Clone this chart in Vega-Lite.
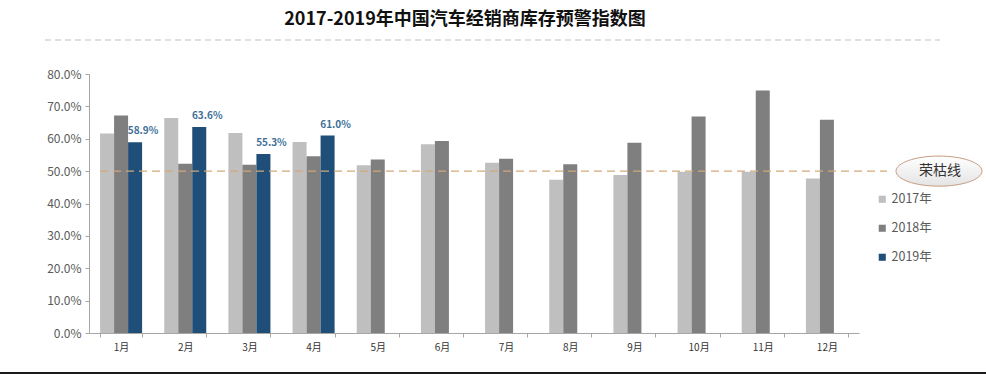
{
  "$schema": "https://vega.github.io/schema/vega-lite/v6.json",
  "width": 770,
  "height": 259,
  "autosize": {"type": "none"},
  "padding": {"left": 89, "top": 74, "right": 127, "bottom": 41},
  "background": "white",
  "title": {
    "text": "2017-2019年中国汽车经销商库存预警指数图",
    "font": "Noto Sans CJK SC",
    "fontSize": 18,
    "fontWeight": "bold",
    "color": "#111111",
    "anchor": "middle",
    "offset": 11,
    "dx": -9
  },
  "config": {
    "view": {"stroke": null},
    "font": "Noto Sans CJK SC",
    "axisY": {"tickCount": 12, "labelOverlap": false}
  },
  "layer": [
    {
      "data": {
        "values": [
          {"month": "1月", "year": "2017年", "value": 0.616},
          {"month": "1月", "year": "2018年", "value": 0.672},
          {"month": "1月", "year": "2019年", "value": 0.589},
          {"month": "2月", "year": "2017年", "value": 0.664},
          {"month": "2月", "year": "2018年", "value": 0.523},
          {"month": "2月", "year": "2019年", "value": 0.636},
          {"month": "3月", "year": "2017年", "value": 0.618},
          {"month": "3月", "year": "2018年", "value": 0.520},
          {"month": "3月", "year": "2019年", "value": 0.553},
          {"month": "4月", "year": "2017年", "value": 0.590},
          {"month": "4月", "year": "2018年", "value": 0.546},
          {"month": "4月", "year": "2019年", "value": 0.610},
          {"month": "5月", "year": "2017年", "value": 0.518},
          {"month": "5月", "year": "2018年", "value": 0.536},
          {"month": "6月", "year": "2017年", "value": 0.583},
          {"month": "6月", "year": "2018年", "value": 0.593},
          {"month": "7月", "year": "2017年", "value": 0.526},
          {"month": "7月", "year": "2018年", "value": 0.538},
          {"month": "8月", "year": "2017年", "value": 0.473},
          {"month": "8月", "year": "2018年", "value": 0.521},
          {"month": "9月", "year": "2017年", "value": 0.488},
          {"month": "9月", "year": "2018年", "value": 0.588},
          {"month": "10月", "year": "2017年", "value": 0.498},
          {"month": "10月", "year": "2018年", "value": 0.669},
          {"month": "11月", "year": "2017年", "value": 0.498},
          {"month": "11月", "year": "2018年", "value": 0.749},
          {"month": "12月", "year": "2017年", "value": 0.477},
          {"month": "12月", "year": "2018年", "value": 0.659}
        ]
      },
      "layer": [
        {
          "mark": {"type": "bar"},
          "encoding": {
            "x": {
              "field": "month",
              "type": "nominal",
              "sort": ["1月","2月","3月","4月","5月","6月","7月","8月","9月","10月","11月","12月"],
              "scale": {"paddingInner": 0.345, "paddingOuter": 0.1725},
              "axis": {
                "title": null,
                "labelAngle": 0,
                "labelFontSize": 10,
                "labelColor": "#333333",
                "labelPadding": 5,
                "tickBand": "extent",
                "tickSize": 4,
                "tickColor": "#a6a6a6",
                "domainColor": "#a6a6a6"
              }
            },
            "xOffset": {
              "field": "year",
              "type": "nominal",
              "scale": {"domain": ["2017年", "2018年", "2019年"], "paddingInner": 0, "paddingOuter": 0}
            },
            "y": {
              "field": "value",
              "type": "quantitative",
              "scale": {"domain": [0, 0.8], "nice": false},
              "axis": {
                "title": null,
                "format": ".1%",
                "values": [0, 0.1, 0.2, 0.3, 0.4, 0.5, 0.6, 0.7, 0.8],
                "tickCount": 12,
                "labelOverlap": false,
                "grid": false,
                "labelFontSize": 12,
                "labelColor": "#595959",
                "labelPadding": 4,
                "tickSize": 4,
                "tickColor": "#a6a6a6",
                "domainColor": "#a6a6a6"
              }
            },
            "color": {
              "field": "year",
              "type": "nominal",
              "scale": {"domain": ["2017年", "2018年", "2019年"], "range": ["#bfbfbf", "#7f7f7f", "#1f4e79"]},
              "legend": {
                "title": null,
                "orient": "none",
                "legendX": 787,
                "legendY": 119,
                "symbolType": "square",
                "symbolSize": 50,
                "labelFontSize": 12.5,
                "labelColor": "#595959",
                "rowPadding": 16,
                "labelOffset": 3
              }
            }
          }
        },
        {
          "transform": [{"filter": "datum.year === '2019年'"}],
          "mark": {"type": "text", "baseline": "bottom", "dx": 8, "dy": -6, "fontSize": 10, "fontWeight": "bold", "color": "#3d6f98"},
          "encoding": {
            "x": {"field": "month", "type": "nominal", "sort": ["1月","2月","3月","4月","5月","6月","7月","8月","9月","10月","11月","12月"]},
            "xOffset": {"field": "year", "type": "nominal"},
            "y": {"field": "value", "type": "quantitative"},
            "text": {"field": "value", "type": "quantitative", "format": ".1%"}
          }
        }
      ]
    },
    {
      "data": {"values": [{"label": "荣枯线", "value": 0.5}]},
      "layer": [
        {
          "mark": {"type": "rule", "color": "#d4a87a", "strokeWidth": 1.3, "strokeDash": [8, 5], "clip": false},
          "encoding": {
            "y": {"field": "value", "type": "quantitative"},
            "x": {"value": 11},
            "x2": {"value": 798}
          }
        },
        {
          "mark": {
            "type": "point",
            "shape": "M-1,0 A1,0.35 0 1,0 1,0 A1,0.35 0 1,0 -1,0 Z",
            "size": 7396,
            "filled": true,
            "opacity": 1,
            "fill": {"gradient": "linear", "x1": 0, "y1": 0, "x2": 0, "y2": 1, "stops": [{"offset": 0, "color": "#ffffff"}, {"offset": 1, "color": "#e4e4e4"}]},
            "stroke": "#c79c80",
            "strokeWidth": 1,
            "clip": false
          },
          "encoding": {
            "y": {"field": "value", "type": "quantitative"},
            "x": {"value": 850}
          }
        },
        {
          "mark": {"type": "text", "fontSize": 14, "color": "#333333", "clip": false},
          "encoding": {
            "y": {"field": "value", "type": "quantitative"},
            "x": {"value": 851},
            "text": {"field": "label"}
          }
        }
      ]
    },
    {
      "data": {"values": [{"part": "divider"}]},
      "mark": {"type": "rule", "color": "#bfbfbf", "strokeWidth": 1, "strokeDash": [6, 4], "clip": false},
      "encoding": {
        "y": {"value": -34},
        "x": {"value": -44},
        "x2": {"value": 851}
      }
    },
    {
      "data": {"values": [{"part": "bottom border"}]},
      "mark": {"type": "rule", "color": "#1a1a1a", "strokeWidth": 2, "clip": false},
      "encoding": {
        "y": {"value": 299},
        "x": {"value": -89},
        "x2": {"value": 897}
      }
    }
  ]
}
